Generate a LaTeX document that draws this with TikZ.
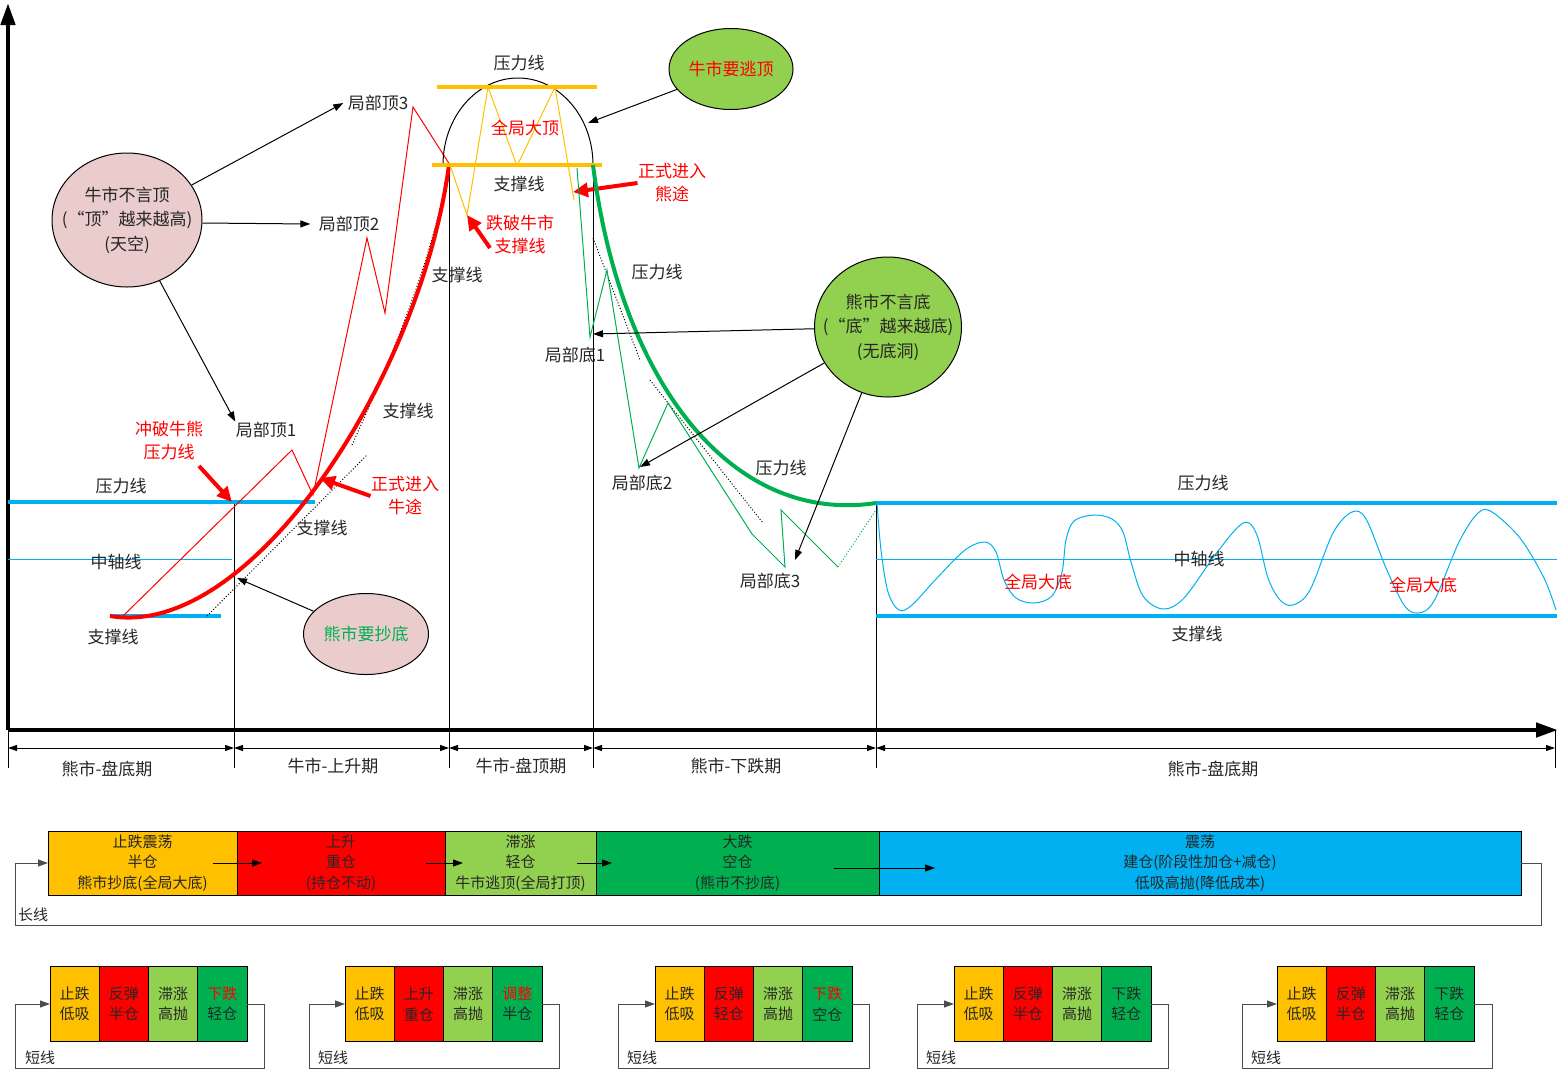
\documentclass[tikz,border=0pt]{standalone}
\usepackage{fontspec}
\setmainfont{Noto Sans CJK SC}
\usepackage{xcolor}
\usepackage{tikz}
\usetikzlibrary{arrows.meta,shapes.geometric}
\definecolor{niceblue}{RGB}{0, 176, 240}
\definecolor{nicered}{RGB}{255, 0, 0}
\definecolor{niceorange}{RGB}{255, 192, 0}
\definecolor{nicegreen}{RGB}{0, 176, 80}
\definecolor{lightgreen}{RGB}{146, 208, 80}
\definecolor{nicepink}{RGB}{234, 204, 204}
\definecolor{textgray}{RGB}{38, 38, 38}

\begin{document}
\begin{tikzpicture}[x=1pt, y=-1pt, line width=1pt,
	lbl/.style={text=textgray, font=\fontsize{17}{23}\selectfont, align=center, inner sep=0pt},
	redlbl/.style={lbl, text=nicered},
	boxtext/.style={text=textgray, font=\fontsize{15}{20.5}\selectfont, align=center, inner sep=0pt, outer sep=0pt},
	bigbox/.style={boxtext, draw=black, minimum height=64pt, anchor=west},
	cell/.style={boxtext, draw=black, minimum width=49.25pt, minimum height=75pt, anchor=west},
	bubble/.style={ellipse, draw=black, inner sep=0pt},
	arr/.style={-{Triangle[length=10pt,width=7pt]}},
	twoarr/.style={{Triangle[length=9pt,width=6pt]}-{Triangle[length=9pt,width=6pt]}},
	redarr/.style={nicered, line width=4pt, -{Triangle[length=15pt,width=14pt]}},
	axis/.style={line width=4.5pt, -{Triangle[length=22pt,width=14pt]}},
	thickblue/.style={niceblue, line width=3.5pt},
	loopline/.style={black!70, line width=1pt}]
	\useasboundingbox (0,0) rectangle (1561,1072);
	% axes and phase lines
	\coordinate (o) at (8,730);
	\draw[axis] (o) -- (8,3);
	\draw[axis] (o) -- (1558,730);
	\draw (8,730) -- (8,768);
	\draw (234,500) -- (234,768);
	\draw (449,165) -- (449,768);
	\draw (593,165) -- (593,768);
	\draw (876,503) -- (876,768);
	\draw (1555,730) -- (1555,768);
	\coordinate (c0) at (8,748);
	\coordinate (c1) at (234,748);
	\coordinate (c2) at (449,748);
	\coordinate (c3) at (593,748);
	\coordinate (c4) at (876,748);
	\coordinate (c5) at (1555,748);
	\draw[twoarr] (c0) -- (c1);
	\draw[twoarr] (c1) -- (c2);
	\draw[twoarr] (c2) -- (c3);
	\draw[twoarr] (c3) -- (c4);
	\draw[twoarr] (c4) -- (c5);
	\node (ph1) at (107,769) [lbl] {熊市-盘底期};
	\node (ph2) at (333,766) [lbl] {牛市-上升期};
	\node (ph3) at (521,766) [lbl] {牛市-盘顶期};
	\node (ph4) at (736,766) [lbl] {熊市-下跌期};
	\node (ph5) at (1213,769) [lbl] {熊市-盘底期};
	% bottom range, left
	\draw[thickblue] (8,502) -- (315,502);
	\draw[thickblue] (110,616) -- (221,616);
	\draw[niceblue] (8,559) -- (232,559);
	\node (pres1) at (121,486) [lbl] {压力线};
	\node (axis1) at (116,562) [lbl] {中轴线};
	\node (supp1) at (113,637) [lbl] {支撑线};
	% bull run
	\draw[dotted] (207,616) -- (367,455);
	\draw[dotted] (352,445) .. controls (395,350) and (430,265) .. (448,172);
	\draw[nicered] (123,616) -- (292,450) -- (313,495) -- (367,238) -- (385,313) -- (413,107) -- (450,165);
	\draw[nicered, line width=4pt] (110,616) .. controls (250,640) and (420,380) .. (449,165);
	\node (top1) at (266,430) [lbl] {局部顶1};
	\node (top2) at (349,224) [lbl] {局部顶2};
	\node (top3) at (378,103) [lbl] {局部顶3};
	\node (supp2) at (322,528) [lbl] {支撑线};
	\node (supp3) at (408,411) [lbl] {支撑线};
	\node (supp4) at (457,275) [lbl] {支撑线};
	\node (breakpres) at (169,440) [redlbl] {冲破牛熊\\压力线};
	\node (bullin) at (405,496) [redlbl] {正式进入\\牛途};
	\coordinate (breaktip) at (232,502);
	\coordinate (bulltip) at (320,478);
	\draw[redarr] (199,466) -- (breaktip);
	\draw[redarr] (bullin.west) -- (bulltip);
	% top
	\draw (443,165) arc[start angle=180, end angle=360, x radius=75, y radius=87];
	\draw[niceorange, line width=3.5pt] (437,87) -- (597,87);
	\draw[niceorange, line width=3.5pt] (432,165) -- (602,165);
	\draw[niceorange] (450,165) -- (467,215) -- (488,87) -- (517,166) -- (555,87) -- (574,200);
	\node (pres2) at (519,63) [lbl] {压力线};
	\node (bigtop) at (525,128) [redlbl] {全局大顶};
	\node (supp5) at (519,184) [lbl] {支撑线};
	\node (breaksup) at (520,234) [redlbl] {跌破牛市\\支撑线};
	\node (bearin) at (672,183) [redlbl] {正式进入\\熊途};
	\coordinate (brktip) at (467,215);
	\coordinate (beartip) at (573,192);
	\draw[redarr] (490,248) -- (brktip);
	\draw[redarr] (bearin.west) -- (beartip);
	% bear fall
	\draw[dotted] (593,238) -- (640,360);
	\draw[dotted] (650,380) -- (763,523);
	\draw[nicegreen] (577,168) -- (590,337) -- (607,270) -- (639,468) -- (668,403) -- (752,534) -- (785,567) -- (781,510) -- (838,567);
	\draw[nicegreen, dotted] (838,567) -- (876,510);
	\draw[nicegreen, line width=4pt] (593,165) .. controls (620,380) and (730,525) .. (876,503);
	\node (pres3) at (657,272) [lbl] {压力线};
	\node (pres4) at (781,468) [lbl] {压力线};
	\node (bot1) at (575,355) [lbl] {局部底1};
	\node (bot2) at (642,483) [lbl] {局部底2};
	\node (bot3) at (770,581) [lbl] {局部底3};
	% bottom range, right
	\draw[thickblue] (876,503) -- (1557,503);
	\draw[thickblue] (876,616) -- (1557,616);
	\draw[niceblue] (876,559) -- (1557,559);
	\draw[niceblue] plot[smooth, tension=0.55] coordinates {(877,503) (881,550) (888,592) (899,610) (912,605) (937,578) (965,550) (985,542) (996,552) (1004,580) (1016,598) (1034,603) (1052,596) (1062,572) (1066,540) (1074,521) (1094,515) (1112,519) (1123,532) (1131,562) (1143,596) (1163,609) (1184,598) (1215,555) (1238,527) (1249,523) (1258,538) (1268,578) (1280,600) (1293,605) (1310,590) (1333,533) (1352,512) (1366,519) (1386,568) (1404,605) (1418,613) (1434,601) (1459,542) (1478,513) (1492,512) (1520,538) (1544,578) (1556,610)};
	\node (pres5) at (1203,483) [lbl] {压力线};
	\node (axis2) at (1199,559) [lbl] {中轴线};
	\node (supp6) at (1197,634) [lbl] {支撑线};
	\node (bigbot1) at (1038,582) [redlbl] {全局大底};
	\node (bigbot2) at (1423,585) [redlbl] {全局大底};
	% bubbles
	\node (bullsky) at (127,220) [bubble, fill=nicepink, minimum width=150pt, minimum height=134pt] {};
	\node (bullskytxt) at (bullsky) [lbl, font=\fontsize{17}{24.5}\selectfont] {牛市不言顶\\(“顶”越来越高)\\(天空)};
	\node (bullesc) at (731,69) [bubble, fill=lightgreen, minimum width=124pt, minimum height=81pt] {};
	\node (bullesctxt) at (bullesc) [redlbl] {牛市要逃顶};
	\node (bearbuy) at (366,634) [bubble, fill=nicepink, minimum width=125pt, minimum height=81pt] {};
	\node (bearbuytxt) at (bearbuy) [lbl, text=nicegreen] {熊市要抄底};
	\node (bearpit) at (888,327) [bubble, fill=lightgreen, minimum width=147pt, minimum height=140pt] {};
	\node (bearpittxt) at (bearpit) [lbl, font=\fontsize{17}{24.5}\selectfont] {熊市不言底\\(“底”越来越底)\\(无底洞)};
	\coordinate (esctip) at (588,123);
	\coordinate (buytip) at (237,578);
	\coordinate (b1) at (593,334);
	\coordinate (b2) at (640,467);
	\coordinate (b3) at (795,560);
	\draw[arr] (bullsky) -- ([xshift=-4pt]top3.west);
	\draw[arr] ([yshift=-3pt]bullsky.east) -- ([xshift=-8pt]top2.west);
	\draw[arr] (bullsky) -- (top1.north west);
	\draw[arr] (bullesc) -- (esctip);
	\draw[arr] (bearbuy) -- (buytip);
	\draw[arr] (bearpit) -- (b1);
	\draw[arr] (bearpit) -- (b2);
	\draw[arr] (bearpit) -- (b3);
	% long line
	\node (l1) at (48,863) [bigbox, fill=niceorange, minimum width=189pt] {止跌震荡\\半仓\\熊市抄底(全局大底)};
	\node (l2) at (l1.east) [bigbox, fill=nicered, minimum width=208pt] {上升\\重仓\\(持仓不动)};
	\node (l3) at (l2.east) [bigbox, fill=lightgreen, minimum width=151pt] {滞涨\\轻仓\\牛市逃顶(全局打顶)};
	\node (l4) at (l3.east) [bigbox, fill=nicegreen, minimum width=283pt] {大跌\\空仓\\(熊市不抄底)};
	\node (l5) at (l4.east) [bigbox, fill=niceblue, minimum width=642pt] {震荡\\建仓(阶段性加仓+减仓)\\低吸高抛(降低成本)};
	\draw[arr] ([xshift=-24pt]l1.east) -- ([xshift=25pt]l2.west);
	\draw[arr] ([xshift=-19pt]l2.east) -- ([xshift=18pt]l3.west);
	\draw[arr] ([xshift=-19pt]l3.east) -- ([xshift=16pt]l4.west);
	\draw[arr] ([xshift=-45pt,yshift=-5pt]l4.east) -- ([xshift=56pt,yshift=-5pt]l5.west);
	\draw[loopline, arr] (l5.east) -- ++(20,0) -- ++(0,62) -| ([xshift=-33pt]l1.west) -- (l1.west);
	\node (long) at (33,915) [lbl, font=\fontsize{15}{18}\selectfont] {长线};
	% short lines
	\node (a1) at (50,1004) [cell, fill=niceorange] {止跌\\低吸};
	\node (a2) at (a1.east) [cell, fill=nicered] {反弹\\半仓};
	\node (a3) at (a2.east) [cell, fill=lightgreen] {滞涨\\高抛};
	\node (a4) at (a3.east) [cell, fill=nicegreen] {\textcolor{nicered}{下跌}\\轻仓};
	\draw[loopline, arr] (a4.east) -- ++(17,0) -- ++(0,64) -| ([xshift=-35pt]a1.west) -- (a1.west);
	\node (sa) at (40,1058) [lbl, font=\fontsize{15}{18}\selectfont] {短线};
	\node (b1c) at (345,1004) [cell, fill=niceorange] {止跌\\低吸};
	\node (b2c) at (b1c.east) [cell, fill=nicered] {上升\\重仓};
	\node (b3c) at (b2c.east) [cell, fill=lightgreen] {滞涨\\高抛};
	\node (b4c) at (b3c.east) [cell, fill=nicegreen] {\textcolor{nicered}{调整}\\半仓};
	\draw[loopline, arr] (b4c.east) -- ++(17,0) -- ++(0,64) -| ([xshift=-36pt]b1c.west) -- (b1c.west);
	\node (sb) at (333,1058) [lbl, font=\fontsize{15}{18}\selectfont] {短线};
	\node (c1c) at (655,1004) [cell, fill=niceorange] {止跌\\低吸};
	\node (c2c) at (c1c.east) [cell, fill=nicered] {反弹\\轻仓};
	\node (c3c) at (c2c.east) [cell, fill=lightgreen] {滞涨\\高抛};
	\node (c4c) at (c3c.east) [cell, fill=nicegreen] {\textcolor{nicered}{下跌}\\空仓};
	\draw[loopline, arr] (c4c.east) -- ++(17,0) -- ++(0,64) -| ([xshift=-37pt]c1c.west) -- (c1c.west);
	\node (sc) at (642,1058) [lbl, font=\fontsize{15}{18}\selectfont] {短线};
	\node (d1c) at (954,1004) [cell, fill=niceorange] {止跌\\低吸};
	\node (d2c) at (d1c.east) [cell, fill=nicered] {反弹\\半仓};
	\node (d3c) at (d2c.east) [cell, fill=lightgreen] {滞涨\\高抛};
	\node (d4c) at (d3c.east) [cell, fill=nicegreen] {下跌\\轻仓};
	\draw[loopline, arr] (d4c.east) -- ++(17,0) -- ++(0,64) -| ([xshift=-37pt]d1c.west) -- (d1c.west);
	\node (sd) at (941,1058) [lbl, font=\fontsize{15}{18}\selectfont] {短线};
	\node (e1c) at (1277,1004) [cell, fill=niceorange] {止跌\\低吸};
	\node (e2c) at (e1c.east) [cell, fill=nicered] {反弹\\半仓};
	\node (e3c) at (e2c.east) [cell, fill=lightgreen] {滞涨\\高抛};
	\node (e4c) at (e3c.east) [cell, fill=nicegreen] {下跌\\轻仓};
	\draw[loopline, arr] (e4c.east) -- ++(18,0) -- ++(0,64) -| ([xshift=-35pt]e1c.west) -- (e1c.west);
	\node (se) at (1266,1058) [lbl, font=\fontsize{15}{18}\selectfont] {短线};
\end{tikzpicture}
\end{document}
